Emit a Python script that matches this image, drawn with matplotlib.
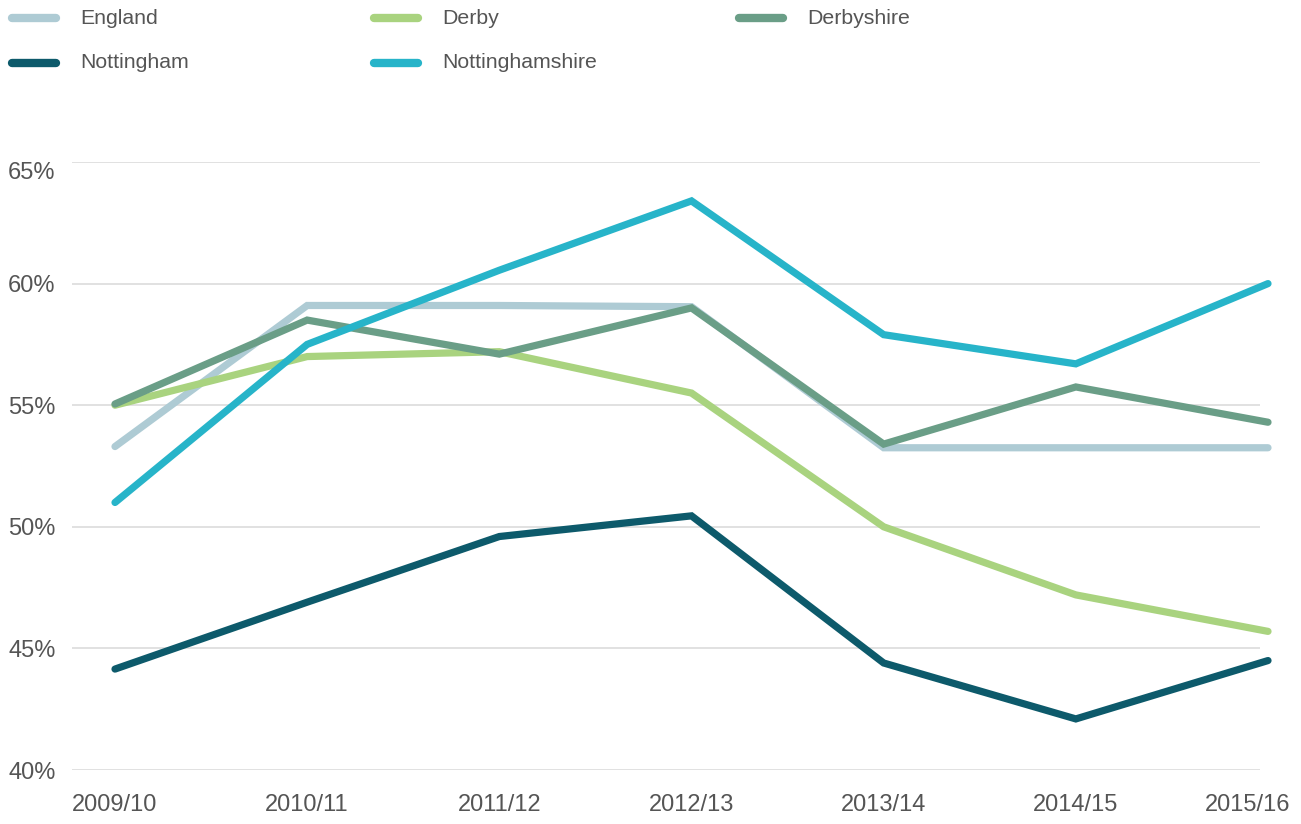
import numpy as np
import matplotlib.pyplot as plt
from matplotlib.lines import Line2D
from matplotlib.transforms import ScaledTranslation

plt.rcParams['font.family'] = ['Liberation Sans', 'DejaVu Sans']

years = ['2009/10', '2010/11', '2011/12', '2012/13', '2013/14', '2014/15', '2015/16']
england = [53.3, 59.1, 59.1, 59.05, 53.25, 53.25, 53.25]
derby = [55.0, 57.0, 57.2, 55.5, 50.0, 47.2, 45.7]
derbyshire = [55.05, 58.5, 57.1, 59.0, 53.4, 55.75, 54.3]
nottingham = [44.15, 46.9, 49.6, 50.45, 44.4, 42.1, 44.5]
nottinghamshire = [51.0, 57.5, 60.55, 63.4, 57.9, 56.7, 60.0]
yticks = [40, 45, 50, 55, 60, 65]

names = ['England', 'Derby', 'Derbyshire', 'Nottingham', 'Nottinghamshire']
colors = ['#aecbd4', '#a9d37f', '#6a9e87', '#0d5a6b', '#27b4c9']
series = [england, derby, derbyshire, nottingham, nottinghamshire]
text_col = '#555555'

W, H = 1301, 824
fig = plt.figure(figsize=(W / 100, H / 100), dpi=100)
ax = fig.add_axes([72 / W, (H - 770) / H, (1274 - 72) / W, (770 - 162) / H])

x = np.arange(len(years))
# draw order: Derby under England, the rest on top
for i in [1, 0, 2, 3, 4]:
    ax.plot(x, series[i], color=colors[i], lw=5.2, solid_capstyle='round',
            solid_joinstyle='miter', clip_on=False, zorder=3 + i)

ax.set_yticks(yticks)
ax.set_yticklabels([f'{v}%' for v in yticks])
ax.set_xticks(x)
ax.set_xticklabels(years)
step = (1268 - 115) / 6
x_left = (72 - 115) / step
ax.set_xlim(x_left, (1274 - 115) / step)
ax.set_ylim(40, 65)
# grid stops a little before the last year
ax.hlines(yticks, x_left, (1260 - 115) / step, color='#dcdcdc', lw=1.2, zorder=1)
for s in ax.spines.values():
    s.set_visible(False)
ax.tick_params(axis='both', length=0, labelsize=17, labelcolor=text_col)
ax.tick_params(axis='x', pad=17)
ax.tick_params(axis='y', pad=46)
for lab in ax.get_yticklabels():
    lab.set_horizontalalignment('left')
top = ax.get_yticklabels()[-1]
top.set_verticalalignment('top')

# last year label is pulled in so it fits the figure
last = ax.get_xticklabels()[-1]
last.set_horizontalalignment('right')
last.set_transform(last.get_transform() + ScaledTranslation(0.22, 0, fig.dpi_scale_trans))

# legend drawn by hand in figure pixels
leg_pos = [(8, 18), (370, 18), (735, 18), (8, 63), (370, 63)]
for (lx, ly), name, c in zip(leg_pos, names, colors):
    fig.add_artist(Line2D([(lx + 4) / W, (lx + 48) / W], [1 - ly / H, 1 - ly / H],
                          color=c, lw=6, solid_capstyle='round'))
    fig.text((lx + 72) / W, 1 - ly / H, name, fontsize=15.3, color=text_col,
             va='center', ha='left')

fig.savefig('out.png', dpi=100)
